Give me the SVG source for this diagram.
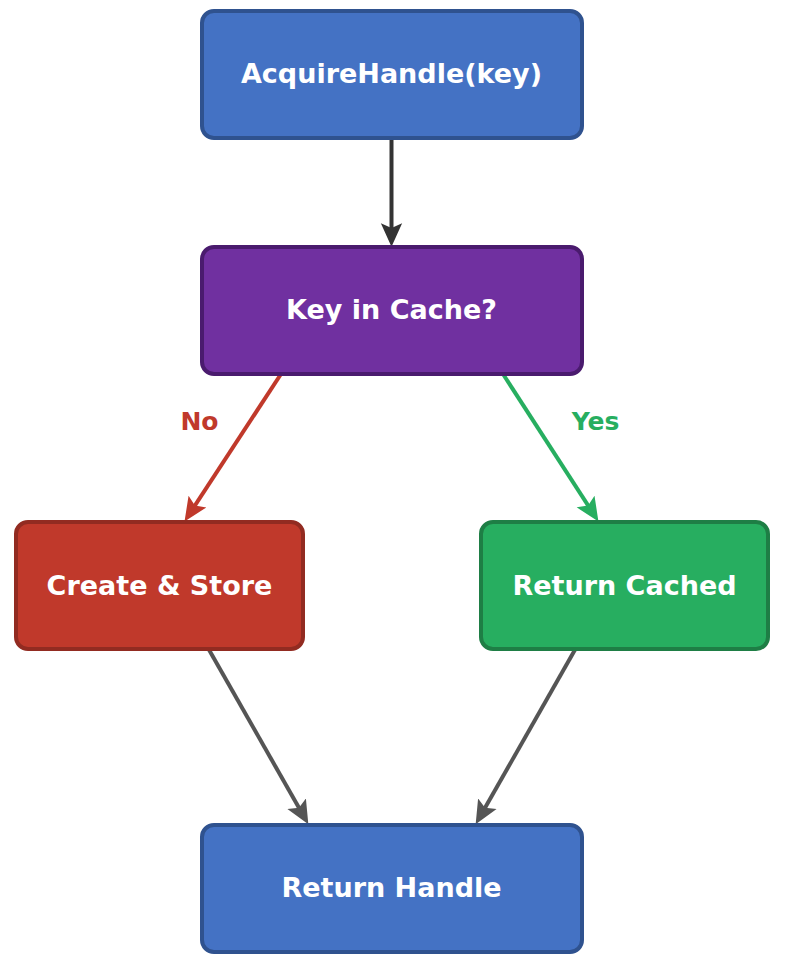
<svg xmlns="http://www.w3.org/2000/svg" width="790" height="960" viewBox="0 0 790 960">
<style>
.box{stroke-width:4}
.lbl{font-family:"DejaVu Sans",sans-serif;font-weight:bold;font-size:27px;fill:#ffffff;text-anchor:middle;dominant-baseline:central}
.elbl{font-family:"DejaVu Sans",sans-serif;font-weight:bold;font-size:25px;text-anchor:middle;dominant-baseline:central}
.edge{fill:none;stroke-width:4}
</style>
<defs>
<marker id="ahDark" markerUnits="userSpaceOnUse" markerWidth="26" markerHeight="26" viewBox="0 -10 22 20" refX="10" refY="0" orient="auto"><path d="M0,-9 L20,0 L0,9 L4,0 Z" fill="#333333"/></marker>
<marker id="ahGray" markerUnits="userSpaceOnUse" markerWidth="26" markerHeight="26" viewBox="0 -10 22 20" refX="10" refY="0" orient="auto"><path d="M0,-9 L20,0 L0,9 L4,0 Z" fill="#555555"/></marker>
<marker id="ahRed" markerUnits="userSpaceOnUse" markerWidth="26" markerHeight="26" viewBox="0 -10 22 20" refX="10" refY="0" orient="auto"><path d="M0,-9 L20,0 L0,9 L4,0 Z" fill="#C0392B"/></marker>
<marker id="ahGreen" markerUnits="userSpaceOnUse" markerWidth="26" markerHeight="26" viewBox="0 -10 22 20" refX="10" refY="0" orient="auto"><path d="M0,-9 L20,0 L0,9 L4,0 Z" fill="#27AE60"/></marker>
</defs>
<rect width="790" height="960" fill="#ffffff"/>
<g id="connectors">
<line class="edge" x1="391.5" y1="138" x2="391.5" y2="235" stroke="#333333" marker-end="url(#ahDark)"/>
<line class="edge" x1="281" y1="374" x2="191" y2="511.5" stroke="#C0392B" marker-end="url(#ahRed)"/>
<line class="edge" x1="503" y1="374" x2="592" y2="511.5" stroke="#27AE60" marker-end="url(#ahGreen)"/>
<line class="edge" x1="208" y1="648" x2="302.5" y2="814" stroke="#555555" marker-end="url(#ahGray)"/>
<line class="edge" x1="576" y1="648" x2="481.5" y2="814" stroke="#555555" marker-end="url(#ahGray)"/>
<text class="elbl" x="199.5" y="421" fill="#C0392B">No</text>
<text class="elbl" x="595.5" y="421" fill="#27AE60">Yes</text>
</g>
<g id="acquire">
<rect class="box" x="202" y="11" width="380" height="127" rx="12" fill="#4472C4" stroke="#2F528F"/>
<text class="lbl" x="391.5" y="73">AcquireHandle(key)</text>
</g>
<g id="keyInCache">
<rect class="box" x="202" y="247" width="380" height="127" rx="12" fill="#7030A0" stroke="#4A1B6E"/>
<text class="lbl" x="391.5" y="309">Key in Cache?</text>
</g>
<g id="createStore">
<rect class="box" x="16" y="522" width="287" height="127" rx="12" fill="#C0392B" stroke="#922B21"/>
<text class="lbl" x="159.5" y="585">Create &amp; Store</text>
</g>
<g id="returnCached">
<rect class="box" x="481" y="522" width="287" height="127" rx="12" fill="#27AE60" stroke="#1E7E45"/>
<text class="lbl" x="624.5" y="585">Return Cached</text>
</g>
<g id="returnHandle">
<rect class="box" x="202" y="825" width="380" height="127" rx="12" fill="#4472C4" stroke="#2F528F"/>
<text class="lbl" x="391.5" y="887">Return Handle</text>
</g>
</svg>
